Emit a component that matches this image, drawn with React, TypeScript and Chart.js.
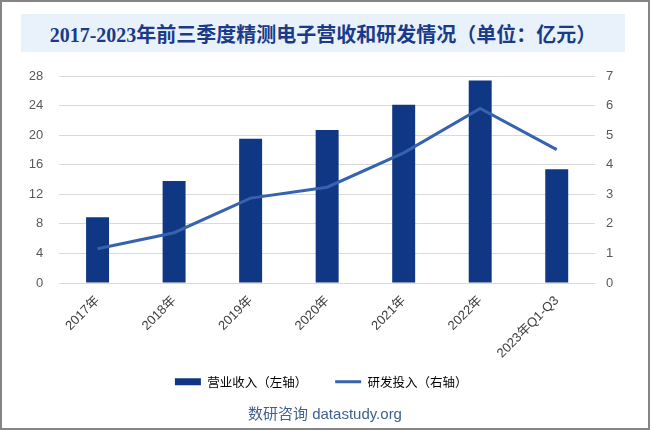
import React, { useEffect, useRef } from "react";
import { Chart, registerables } from "chart.js";

Chart.register(...registerables);

const TITLE = "2017-2023年前三季度精测电子营收和研发情况（单位：亿元）";
const SOURCE = "数研咨询 datastudy.org";
const categories = ["2017年", "2018年", "2019年", "2020年", "2021年", "2022年", "2023年Q1-Q3"];
const revenue = [8.9, 13.8, 19.5, 20.7, 24.1, 27.4, 15.4];
const rdInvestment = [1.16, 1.7, 2.87, 3.24, 4.4, 5.9, 4.51];
const revenueLabel = "营业收入（左轴）";
const rdLabel = "研发投入（右轴）";

const BAR_COLOR = "#0f3784";
const LINE_COLOR = "#3563ae";
const FONT = '"Liberation Sans", "Noto Sans CJK SC", sans-serif';

// let rotated x labels extend below the (short) x-axis box without being clipped
const unclipXLabels = {
  id: "unclipXLabels",
  afterLayout(chart: any) {
    const x = chart.scales.x;
    if (x) x.bottom = chart.height;
  },
};

export default function App() {
  const ref = useRef<HTMLCanvasElement | null>(null);

  useEffect(() => {
    if (!ref.current) return;
    const chart = new Chart(ref.current, {
      type: "bar",
      data: {
        labels: categories,
        datasets: [
          {
            type: "bar",
            label: revenueLabel,
            data: revenue,
            backgroundColor: BAR_COLOR,
            borderWidth: 0,
            barPercentage: 0.6,
            categoryPercentage: 0.5,
            yAxisID: "y",
            order: 2,
          },
          {
            type: "line",
            label: rdLabel,
            data: rdInvestment,
            borderColor: LINE_COLOR,
            backgroundColor: LINE_COLOR,
            borderWidth: 3,
            pointRadius: 0,
            tension: 0,
            yAxisID: "y1",
            order: 1,
          },
        ],
      } as any,
      options: {
        responsive: false,
        animation: false,
        devicePixelRatio: 1,
        layout: { padding: { top: 76, left: 29.3, right: 37, bottom: 32 } },
        plugins: {
          tooltip: { enabled: false },
          title: { display: false },
          legend: {
            position: "bottom",
            labels: {
              usePointStyle: true,
              pointStyleWidth: 26,
              boxHeight: 7,
              padding: 28,
              color: "#262626",
              font: { family: '"Noto Sans CJK SC", sans-serif', size: 12.5 },
              generateLabels: () => [
                {
                  text: revenueLabel,
                  fillStyle: BAR_COLOR,
                  strokeStyle: BAR_COLOR,
                  lineWidth: 0,
                  pointStyle: "rect",
                  hidden: false,
                  datasetIndex: 0,
                },
                {
                  text: rdLabel,
                  fillStyle: LINE_COLOR,
                  strokeStyle: LINE_COLOR,
                  lineWidth: 3,
                  pointStyle: "line",
                  hidden: false,
                  datasetIndex: 1,
                },
              ],
            },
          },
        },
        scales: {
          x: {
            grid: { display: false },
            border: { display: false },
            ticks: {
              autoSkip: false,
              minRotation: 45,
              maxRotation: 45,
              color: "#404040",
              padding: 2,
              font: { family: FONT, size: 13 },
            },
            afterFit: (scale: any) => {
              scale.height = 64.5;
            },
          },
          y: {
            position: "left",
            min: 0,
            max: 28,
            ticks: {
              stepSize: 4,
              padding: 16,
              color: "#595959",
              font: { family: FONT, size: 13 },
            },
            grid: { color: "#d9d9d9", lineWidth: 1, drawTicks: false },
            border: { display: false },
            afterFit: (scale: any) => {
              scale.width = 30;
            },
          },
          y1: {
            position: "right",
            min: 0,
            max: 7,
            ticks: {
              stepSize: 1,
              padding: 11,
              color: "#595959",
              font: { family: FONT, size: 13 },
            },
            grid: { display: false, drawTicks: false },
            border: { display: false },
            afterFit: (scale: any) => {
              scale.width = 18;
            },
          },
        },
      } as any,
      plugins: [unclipXLabels],
    });
    return () => chart.destroy();
  }, []);

  return (
    <div
      style={{
        position: "fixed",
        left: 0,
        top: 0,
        width: 650,
        height: 430,
        background: "#ffffff",
        overflow: "hidden",
      }}
    >
      <div
        style={{
          position: "absolute",
          left: 21,
          top: 14,
          width: 604,
          height: 38,
          background: "#e9f1fb",
          display: "flex",
          alignItems: "center",
          justifyContent: "center",
          color: "#1b3a88",
          fontFamily: '"Liberation Serif", "Noto Sans CJK SC", serif',
          fontWeight: "bold",
          fontSize: 20,
          whiteSpace: "nowrap",
        }}
      >
        {TITLE}
      </div>
      <canvas
        ref={ref}
        width={650}
        height={430}
        style={{ position: "absolute", left: 0, top: 0, width: 650, height: 430 }}
      />
      <div
        style={{
          position: "absolute",
          left: 0,
          top: 404,
          width: 650,
          textAlign: "center",
          lineHeight: "20px",
          fontSize: 15,
          color: "#40618f",
          fontFamily: '"Liberation Sans", "Noto Sans CJK SC", sans-serif',
        }}
      >
        {SOURCE}
      </div>
      <div
        style={{
          position: "absolute",
          left: 0,
          top: 0,
          width: 650,
          height: 430,
          boxSizing: "border-box",
          border: "2px solid #858585",
          pointerEvents: "none",
        }}
      />
    </div>
  );
}
